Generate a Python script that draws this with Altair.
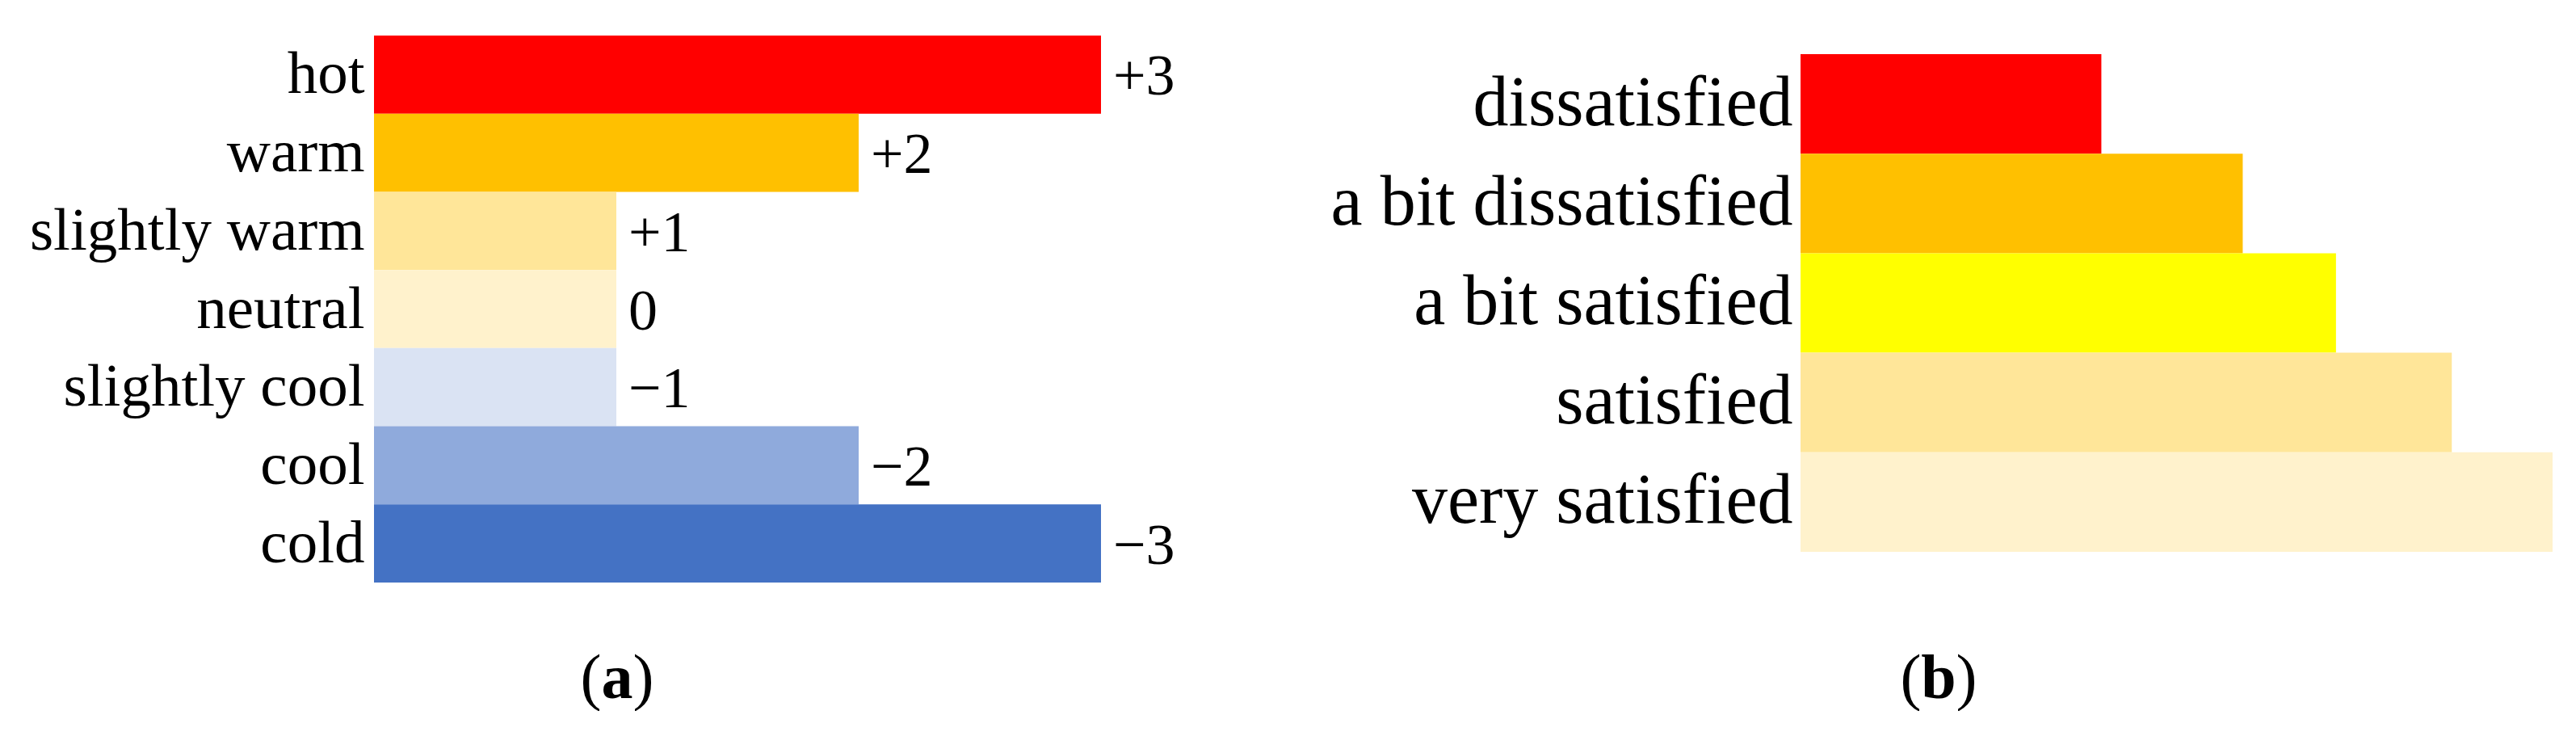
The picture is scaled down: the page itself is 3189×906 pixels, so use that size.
import altair as alt
import pandas as pd

# ---------------- data ----------------
sensation = ["hot", "warm", "slightly warm", "neutral", "slightly cool", "cool", "cold"]
sensation_len = [3, 2, 1, 1, 1, 2, 3]
sensation_lbl = ["+3", "+2", "+1", "0", "\u22121", "\u22122", "\u22123"]

satisfaction = ["dissatisfied", "a bit dissatisfied", "a bit satisfied", "satisfied", "very satisfied"]
satisfaction_len = [2.0, 2.94, 3.56, 4.33, 5.0]

caption_a = ["(", "a", ")"]
caption_b = ["(", "b", ")"]

# ---------------- styles ----------------
SENS_COLORS = ["#FF0000", "#FFC000", "#FFE699", "#FFF2CC", "#DAE3F3", "#8FAADC", "#4472C4"]
SAT_COLORS = ["#FF0000", "#FFC000", "#FFFF00", "#FFE699", "#FFF2CC"]
SERIF = "Liberation Serif"
H = 677

df_a = pd.DataFrame({"cat": sensation, "v": sensation_len, "lbl": sensation_lbl})
df_b = pd.DataFrame({"cat": satisfaction, "v": satisfaction_len})


def caption(parts, cx, letter_w, y, size=78):
    layers = []
    specs = [
        (parts[0], cx - letter_w / 2, "right", "normal"),
        (parts[1], cx, "center", "bold"),
        (parts[2], cx + letter_w / 2, "left", "normal"),
    ]
    for txt, x, al, fw in specs:
        layers.append(
            alt.Chart(pd.DataFrame({"t": [txt]}))
            .mark_text(align=al, baseline="alphabetic", font=SERIF, fontSize=size,
                       fontWeight=fw, color="black")
            .encode(x=alt.value(x), y=alt.value(y), text="t:N")
        )
    return layers


# ---------------- panel (a) ----------------
yA = alt.Y("cat:N", sort=sensation,
           scale=alt.Scale(paddingInner=0, paddingOuter=0),
           axis=alt.Axis(title=None, domain=False, ticks=False, grid=False,
                         labelFont=SERIF, labelFontSize=75, labelColor="black",
                         labelPadding=12, labelLimit=0))
xA = alt.X("v:Q", scale=alt.Scale(domain=[0, 10 / 3], nice=False, zero=True), axis=None)

barsA = alt.Chart(df_a).mark_bar(strokeWidth=0).encode(
    y=yA, x=xA,
    color=alt.Color("cat:N", scale=alt.Scale(domain=sensation, range=SENS_COLORS), legend=None),
)
textA = alt.Chart(df_a).mark_text(align="left", baseline="middle", dx=15, dy=3, font=SERIF,
                                  fontSize=72, color="black").encode(
    y=yA, x=xA, text="lbl:N")

panelA = alt.layer(barsA, textA, *caption(caption_a, 301, 39, 820)).properties(width=1000, height=H)

# ---------------- panel (b) ----------------
yB = alt.Y("cat:N", sort=satisfaction,
           scale=alt.Scale(paddingInner=0, paddingOuter=0.2476, align=0.377),
           axis=alt.Axis(title=None, domain=False, ticks=False, grid=False,
                         labelFont=SERIF, labelFontSize=88, labelColor="black",
                         labelPadding=10, labelLimit=0))
xB = alt.X("v:Q", scale=alt.Scale(domain=[0, 5], nice=False, zero=True), axis=None)

barsB = alt.Chart(df_b).mark_bar(strokeWidth=0).encode(
    y=yB, x=xB,
    color=alt.Color("cat:N", scale=alt.Scale(domain=satisfaction, range=SAT_COLORS), legend=None),
)

panelB = alt.layer(barsB, *caption(caption_b, 171, 43, 820)).properties(width=931, height=H)

chart = (
    alt.hconcat(panelA, panelB, spacing=184)
    .resolve_scale(color="independent", x="independent", y="independent")
    .properties(padding={"left": 28, "top": 36, "right": 0, "bottom": 0}, background="white")
    .configure_view(strokeWidth=0)
)

chart.save("out.html", embed_options={"renderer": "svg", "actions": False})
